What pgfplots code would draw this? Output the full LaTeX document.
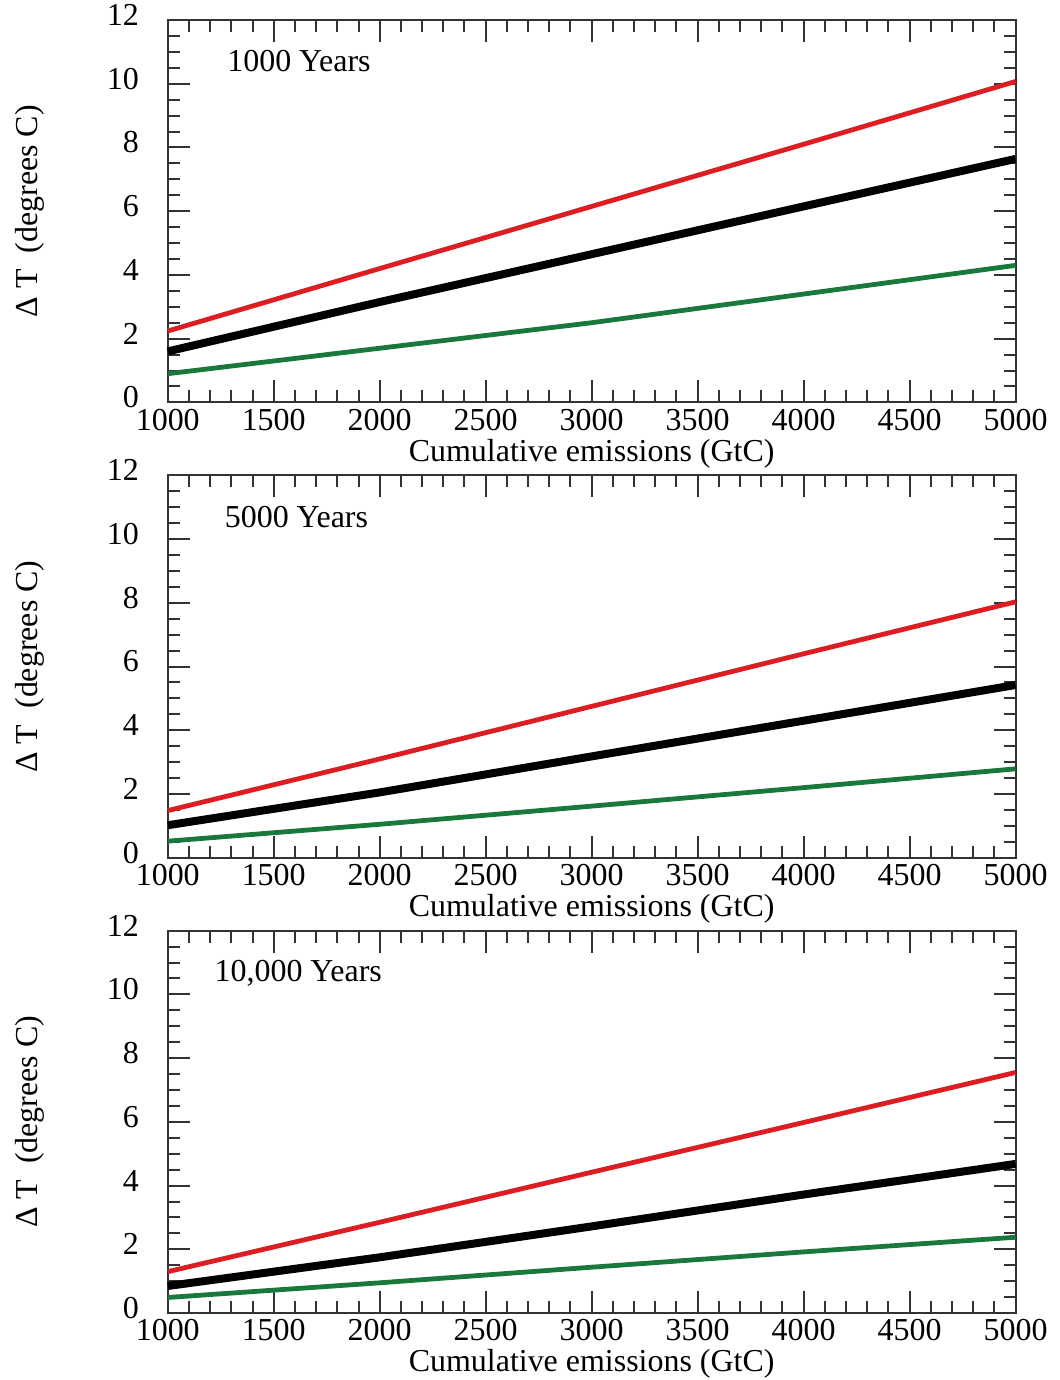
\documentclass[border=0pt]{standalone}
\usepackage{fontspec}
\setmainfont{Liberation Serif}
\usepackage{pgfplots}
\pgfplotsset{compat=1.18}
\definecolor{lred}{RGB}{220,30,35}
\definecolor{lgreen}{RGB}{25,120,60}
\pgfplotsset{panel/.style={
  scale only axis, width=424.5pt, height=191.5pt,
  xmin=1000, xmax=5000, ymin=0, ymax=12,
  xtick={1000,1500,...,5000}, ytick={0,2,...,12},
  minor x tick num=4, minor y tick num=3,
  major tick length=11pt, minor tick length=6pt,
  tick align=inside,
  axis line style={line width=1pt, black!80},
  every tick/.append style={line width=1pt, black!80},
  every minor tick/.append style={line width=1pt, black!80},
  /pgf/number format/assume math mode=true,
  /pgf/number format/set thousands separator={},
  scaled ticks=false,
  tick label style={font=\fontsize{16}{19}\selectfont},
  xticklabel style={inner sep=0pt, yshift=-3pt},
  yticklabel style={xshift=-11pt, yshift=2.5pt},
  xlabel={Cumulative emissions (GtC)},
  ylabel={Δ T\enspace(degrees C)},
  every axis x label/.style={at={(axis description cs:0.5,0)}, anchor=center, yshift=-25.5pt, inner sep=0pt, font=\fontsize{16}{19}\selectfont},
  every axis y label/.style={at={(axis description cs:-0.1625,0.5)}, rotate=90, anchor=center, font=\fontsize{16}{19}\selectfont},
  clip=false,
}}
\begin{document}
\begin{tikzpicture}
\path[use as bounding box] (-84pt,-33.5pt) rectangle (446.5pt,657.5pt);
% Panel 1
\begin{axis}[panel, at={(0,456pt)}, anchor=south west]
\addplot[lred, line width=2.4pt] coordinates {(1000,2.24) (2000,4.2) (3000,6.15) (4000,8.1) (5000,10.07)};
\addplot[black, line width=4pt] coordinates {(1000,1.6) (2000,3.15) (3000,4.65) (4000,6.15) (5000,7.64)};
\addplot[lgreen, line width=2.4pt] coordinates {(1000,0.9) (2000,1.7) (3000,2.5) (4000,3.4) (5000,4.3)};
\node[anchor=base west, font=\fontsize{16}{19}\selectfont] at (axis description cs:0.062,0.864) {1000 Years};
\end{axis}
% Panel 2
\begin{axis}[panel, at={(0,228pt)}, anchor=south west]
\addplot[lred, line width=2.4pt] coordinates {(1000,1.48) (2000,3.1) (3000,4.75) (4000,6.4) (5000,8.03)};
\addplot[black, line width=4pt] coordinates {(1000,1.02) (2000,2.05) (3000,3.18) (4000,4.3) (5000,5.42)};
\addplot[lgreen, line width=2.4pt] coordinates {(1000,0.52) (2000,1.05) (3000,1.62) (4000,2.2) (5000,2.79)};
\node[anchor=base west, font=\fontsize{16}{19}\selectfont] at (axis description cs:0.059,0.864) {5000 Years};
\end{axis}
% Panel 3
\begin{axis}[panel, at={(0,0pt)}, anchor=south west]
\addplot[lred, line width=2.4pt] coordinates {(1000,1.3) (2000,2.85) (3000,4.42) (4000,5.98) (5000,7.55)};
\addplot[black, line width=4pt] coordinates {(1000,0.85) (2000,1.75) (3000,2.72) (4000,3.72) (5000,4.68)};
\addplot[lgreen, line width=2.4pt] coordinates {(1000,0.49) (2000,0.95) (3000,1.44) (4000,1.92) (5000,2.38)};
\node[anchor=base west, font=\fontsize{16}{19}\selectfont] at (axis description cs:0.047,0.866) {10,000 Years};
\end{axis}
\end{tikzpicture}
\end{document}
